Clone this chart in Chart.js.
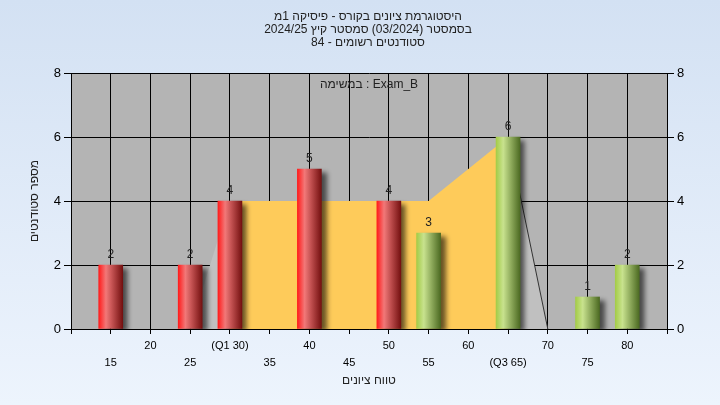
<!DOCTYPE html>
<html>
<head>
<meta charset="utf-8">
<script src="https://cdn.jsdelivr.net/npm/chart.js@4"></script>
<style>
  body { margin: 0; }
  canvas { display: block; }
</style>
</head>
<body>
<canvas id="histChart" width="720" height="405"></canvas>
<script>
// data
const grades = [15, 25, 30, 40, 50, 55, 65, 75, 80];
const counts = [2, 2, 4, 5, 4, 3, 6, 1, 2];
const iqrX = [30, 55, 65];
const iqrY = [4, 4, 6];
const tailLeftX = [25, 30];
const tailLeftY = [0, 4];
const tailRightX = [65, 70];
const tailRightY = [6, 0];
const yTicks = [0, 2, 4, 6, 8];
const q1 = 30, q3 = 65, passMark = 55;

const titleLines = [
  'היסטוגרמת ציונים בקורס - פיסיקה 1מ',
  'בסמסטר (03/2024) סמסטר קיץ 2024/25',
  'סטודנטים רשומים - 84'
];
const legendText = 'במשימה : Exam_B';
const xTitle = 'טווח ציונים';
const yTitle = 'מספר סטודנטים';

const FONT = '"Liberation Sans", Arial, sans-serif';

function pts(xs, ys) { return xs.map((x, i) => ({ x: x, y: ys[i] })); }

function barFill(ctx) {
  const chart = ctx.chart;
  if (!chart.chartArea || ctx.type !== 'data') return '#d02020';
  const grade = ctx.raw.x;
  const px = chart.scales.x.getPixelForValue(grade);
  const g = chart.ctx.createLinearGradient(px - 12, 0, px + 12, 0);
  if (grade >= passMark) {
    g.addColorStop(0, '#a4cc48');
    g.addColorStop(0.3, '#c8e28e');
    g.addColorStop(1, '#4c6a22');
  } else {
    g.addColorStop(0, '#ff1c1c');
    g.addColorStop(0.3, '#f27878');
    g.addColorStop(1, '#741010');
  }
  return g;
}

const decor = {
  id: 'decor',
  beforeDraw(chart) {
    const c = chart.ctx, a = chart.chartArea;
    const bg = c.createLinearGradient(0, 0, 0, chart.height);
    bg.addColorStop(0, '#d3e1f3');
    bg.addColorStop(1, '#edf4fd');
    c.save();
    c.fillStyle = bg;
    c.fillRect(0, 0, chart.width, chart.height);
    c.fillStyle = '#b4b4b4';
    c.fillRect(a.left, a.top, a.right - a.left, a.bottom - a.top);
    c.restore();
  },
  beforeDatasetDraw(chart, args) {
    if (chart.data.datasets[args.index].type !== 'bar') return;
    const c = chart.ctx;
    c.save();
    c.shadowColor = 'rgba(0,0,0,0.6)';
    c.shadowBlur = 5;
    c.shadowOffsetX = 5;
    c.shadowOffsetY = 3;
  },
  afterDatasetDraw(chart, args) {
    if (chart.data.datasets[args.index].type !== 'bar') return;
    const c = chart.ctx;
    c.restore();
    // value labels
    c.save();
    c.font = '12px ' + FONT;
    c.fillStyle = '#222';
    c.textAlign = 'center';
    c.textBaseline = 'bottom';
    args.meta.data.forEach((el, i) => {
      c.fillText(String(counts[i]), el.x, el.y - 4);
    });
    c.restore();
  },
  afterDraw(chart) {
    const c = chart.ctx, a = chart.chartArea;
    c.save();
    c.fillStyle = '#222';
    c.textAlign = 'center';
    c.textBaseline = 'middle';
    c.font = '12px ' + FONT;
    titleLines.forEach((t, i) => c.fillText(t, 368, 17 + i * 13));
    c.fillText(legendText, (a.left + a.right) / 2, 85);
    c.fillText(xTitle, (a.left + a.right) / 2, 381);
    c.translate(35, (a.top + a.bottom) / 2);
    c.rotate(-Math.PI / 2);
    c.fillText(yTitle, 0, 0);
    c.restore();
  }
};

new Chart(document.getElementById('histChart'), {
  type: 'bar',
  data: {
    datasets: [
      {
        type: 'bar',
        data: pts(grades, counts),
        backgroundColor: barFill,
        barThickness: 24,
        order: 1
      },
      {
        type: 'line',
        data: pts(iqrX, iqrY),
        backgroundColor: '#fecb5a',
        borderWidth: 0,
        pointRadius: 0,
        fill: 'origin',
        tension: 0,
        order: 3
      },
      {
        type: 'line',
        data: pts(tailLeftX, tailLeftY),
        backgroundColor: '#c0c0c0',
        borderWidth: 0,
        pointRadius: 0,
        fill: 'origin',
        order: 3
      },
      {
        type: 'line',
        data: pts(tailRightX, tailRightY),
        backgroundColor: '#c0c0c0',
        borderColor: '#333',
        borderWidth: 1,
        pointRadius: 0,
        fill: 'origin',
        order: 2
      }
    ]
  },
  options: {
    responsive: false,
    animation: false,
    layout: { padding: { top: 73, left: 0, right: 0, bottom: 0 } },
    plugins: {
      legend: { display: false },
      title: { display: false },
      tooltip: { enabled: false }
    },
    scales: {
      x: {
        type: 'linear',
        min: 10,
        max: 85,
        offset: false,
        afterFit(s) { s.height = 76; },
        border: { color: '#000', width: 1 },
        grid: { color: '#000', tickColor: '#000', tickLength: 5, offset: false },
        ticks: {
          stepSize: 5,
          autoSkip: false,
          maxRotation: 0,
          padding: 3,
          color: '#000',
          font: { family: FONT, size: 11, lineHeight: 1.55 },
          callback(v) {
            if (v <= 10 || v >= 85) return '';
            let t = String(v);
            if (v === q1) t = '(Q1 ' + v + ')';
            if (v === q3) t = '(Q3 ' + v + ')';
            return (v / 5) % 2 === 1 ? ['', t] : [t];
          }
        }
      },
      y: {
        position: 'left',
        min: 0,
        max: 8,
        afterFit(s) { s.width = 71; },
        afterBuildTicks(s) { s.ticks = yTicks.map(v => ({ value: v })); },
        border: { color: '#000', width: 1 },
        grid: { color: '#000', tickColor: '#000', tickLength: 7 },
        ticks: { color: '#000', padding: 3, font: { family: FONT, size: 13 } }
      },
      y2: {
        position: 'right',
        min: 0,
        max: 8,
        afterFit(s) { s.width = 53; },
        afterBuildTicks(s) { s.ticks = yTicks.map(v => ({ value: v })); },
        border: { color: '#000', width: 1 },
        grid: { drawOnChartArea: false, tickColor: '#000', tickLength: 7 },
        ticks: { color: '#000', padding: 3, font: { family: FONT, size: 13 } }
      }
    }
  },
  plugins: [decor]
});
</script>
</body>
</html>
